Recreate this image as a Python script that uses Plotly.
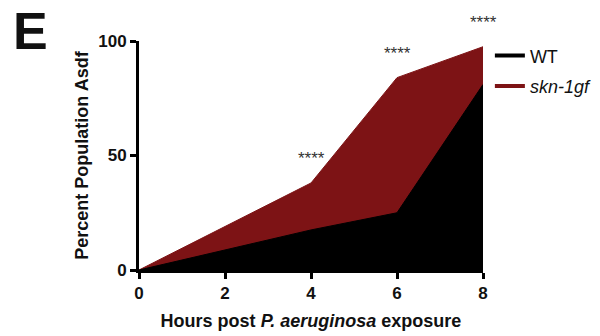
import plotly.graph_objects as go

hours = [0, 4, 6, 8]
wt = [0, 17.5, 25, 81]
skn = [0, 38, 84, 97.5]
sig = ["", "****", "****", "****"]
x_ticks = [0, 2, 4, 6, 8]
y_ticks = [0, 50, 100]

RED = "#7d1315"
BLACK = "#000000"
FONT = "Liberation Sans, Arial, sans-serif"

fig = go.Figure()
fig.add_trace(go.Scatter(x=hours, y=skn, mode="lines", fill="tozeroy",
                         line=dict(color=RED, width=1), fillcolor=RED, showlegend=False))
fig.add_trace(go.Scatter(x=hours, y=wt, mode="lines", fill="tozeroy",
                         line=dict(color=BLACK, width=1), fillcolor=BLACK, showlegend=False))
fig.add_trace(go.Scatter(x=[None], y=[None], mode="lines", name="WT", legendgroup="a",
                         line=dict(color=BLACK, width=4)))
fig.add_trace(go.Scatter(x=[None], y=[None], mode="lines", name="<i>skn-1gf</i>", legendgroup="b",
                         line=dict(color=RED, width=4)))

for h, v, s in zip(hours, skn, sig):
    if s:
        fig.add_annotation(x=h, y=v, text=s, showarrow=False, yshift=24,
                           font=dict(family=FONT, size=17, color="#333"))

fig.add_annotation(x=0.0, y=1.0, xref="paper", yref="paper", xanchor="left", yanchor="top",
                   xshift=-128, yshift=41, text="<b>E</b>", showarrow=False,
                   font=dict(family=FONT, size=52, color="#111"))

fig.update_layout(
    width=600, height=336,
    margin=dict(l=139, r=117, t=41, b=66, autoexpand=False),
    plot_bgcolor="white", paper_bgcolor="white",
    font=dict(family=FONT, color="#111"),
    legend=dict(x=1.02, y=1.016, xanchor="left", yanchor="top",
                font=dict(family=FONT, size=18, color="#111"),
                tracegroupgap=4, itemwidth=30, bgcolor="rgba(0,0,0,0)"),
    xaxis=dict(range=[0, 8], tickvals=x_ticks, ticktext=[f"<b>{t}</b>" for t in x_ticks],
               showgrid=False, zeroline=False, showline=True, linecolor="black", linewidth=3,
               ticks="outside", ticklen=6, tickwidth=3, tickcolor="black", automargin=False,
               tickfont=dict(family=FONT, size=17, color="#111"),
               title=dict(text="<b>Hours post <i>P. aeruginosa</i> exposure</b>",
                          font=dict(family=FONT, size=18, color="#111"), standoff=12)),
    yaxis=dict(range=[0, 100], tickvals=y_ticks, ticktext=[f"<b>{t}</b>" for t in y_ticks],
               showgrid=False, zeroline=False, showline=True, linecolor="black", linewidth=3,
               ticks="outside", ticklen=6, tickwidth=3, tickcolor="black", automargin=False,
               tickfont=dict(family=FONT, size=17, color="#111"),
               title=dict(text="<b>Percent Population Asdf</b>",
                          font=dict(family=FONT, size=18, color="#111"), standoff=5)),
)

fig.write_html("out.html", config={"displayModeBar": False},
               post_script="document.body.style.margin='0';document.body.style.overflow='hidden';")
